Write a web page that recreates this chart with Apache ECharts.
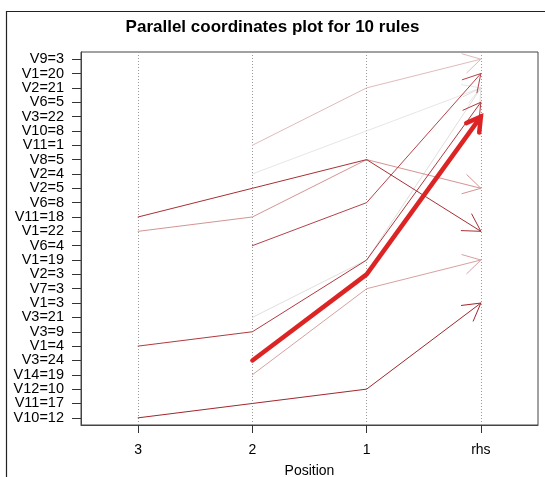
<!DOCTYPE html>
<html><head><meta charset="utf-8">
<script src="https://cdn.jsdelivr.net/npm/echarts@6/dist/echarts.min.js"></script>
<style>html,body{margin:0;padding:0;background:#fff}#c{width:545px;height:477px}</style>
</head><body><div id="c"></div>
<script>
// Axis categories
const positions = ['3', '2', '1', 'rhs'];
const items = ['V10=12','V11=17','V12=10','V14=19','V3=24','V1=4','V3=9','V3=21','V1=3','V7=3',
  'V2=3','V1=19','V6=4','V1=22','V11=18','V6=8','V2=5','V2=4','V8=5','V11=1',
  'V10=8','V3=22','V6=5','V2=21','V1=20','V9=3'];

// Rules (one entry per rule, in drawing order): item at each position
const lhs3 = [null,     null,     null,    'V1=22',  null,     null,    'V11=18', 'V1=4',  'V10=12', null];
const lhs2 = ['V2=4',   'V3=21',  'V11=1', 'V11=18', 'V14=19', 'V6=4',  'V2=5',   'V3=9',  'V11=17', 'V3=24'];
const lhs1 = ['V10=8',  'V1=19',  'V2=21', 'V8=5',   'V7=3',   'V6=8',  'V8=5',   'V1=19', 'V12=10', 'V2=3'];
const rhs  = ['V2=21',  'V2=21',  'V9=3',  'V2=5',   'V1=19',  'V1=20', 'V1=22',  'V6=5',  'V1=3',   'V3=22'];

// Styles (kept apart from data)
const ruleColors = ['#e8e6e6','#e2dede','#dfbcbc','#d49494','#d9a0a0','#b3424a','#a83036','#b03a40','#a2262c','#dd2424'];
const ruleWidths = [1, 1, 1, 1, 1, 1, 1, 1, 1, 4.5];

const columns = [lhs3, lhs2, lhs1, rhs];

function renderRule(params, api) {
  const r = params.dataIndex;
  const pts = [];
  columns.forEach((col, p) => {
    const it = col[r];
    if (it) pts.push(api.coord([p, items.indexOf(it)]));
  });
  const color = ruleColors[r];
  const w = ruleWidths[r];
  const tip = pts[pts.length - 1];
  const prev = pts[pts.length - 2];
  let dx = tip[0] - prev[0], dy = tip[1] - prev[1];
  const len = Math.sqrt(dx * dx + dy * dy);
  dx /= len; dy /= len;
  const L = w > 2 ? 16 : 20;
  const a = Math.PI / 6;
  const rot = (ang) => [dx * Math.cos(ang) - dy * Math.sin(ang), dx * Math.sin(ang) + dy * Math.cos(ang)];
  const r1 = rot(a), r2 = rot(-a);
  const b1 = [tip[0] - L * r1[0], tip[1] - L * r1[1]];
  const b2 = [tip[0] - L * r2[0], tip[1] - L * r2[1]];
  return {
    type: 'group',
    children: [
      { type: 'polyline', shape: { points: pts }, style: { stroke: color, lineWidth: w, fill: null, lineJoin: 'round', lineCap: 'round' } },
      { type: 'polyline', shape: { points: [b1, tip, b2] }, style: { stroke: color, lineWidth: w, fill: null, lineJoin: 'miter', lineCap: w > 2 ? 'round' : 'butt' } }
    ]
  };
}

const font = 'Liberation Sans, Arial, sans-serif';
const chart = echarts.init(document.getElementById('c'), null, { renderer: 'canvas' });
chart.setOption({
  animation: false,
  backgroundColor: '#fff',
  title: {
    text: 'Parallel coordinates plot for 10 rules',
    left: 'center', top: 14,
    textStyle: { fontSize: 17, fontWeight: 'bold', color: '#000', fontFamily: font }
  },
  graphic: [{
    type: 'rect', silent: true,
    shape: { x: 6.5, y: 11.5, width: 700, height: 700 },
    style: { fill: null, stroke: '#222', lineWidth: 1.2 }
  }],
  grid: { left: 81, right: 7, top: 52, bottom: 52, outerBoundsMode: 'none', containLabel: false,
    show: true, borderColor: '#444', borderWidth: 1, backgroundColor: 'transparent' },
  xAxis: {
    type: 'category', data: positions, boundaryGap: true,
    name: 'Position', nameLocation: 'middle', nameGap: 39,
    nameTextStyle: { fontSize: 14, color: '#000', fontFamily: font },
    axisLine: { show: true, lineStyle: { color: '#444' } },
    axisTick: { show: true, alignWithLabel: true, length: 8, lineStyle: { color: '#333' } },
    axisLabel: { fontSize: 14, color: '#000', margin: 18, fontFamily: font },
    splitLine: { show: false }
  },
  yAxis: {
    type: 'category', data: items, boundaryGap: true,
    axisLine: { show: true, lineStyle: { color: '#444' } },
    axisTick: { show: true, alignWithLabel: true, length: 9, lineStyle: { color: '#333' } },
    axisLabel: { fontSize: 14.5, color: '#000', margin: 17, fontFamily: font, interval: 0 },
    splitLine: { show: false }
  },
  series: [{
    type: 'custom',
    renderItem: renderRule,
    data: rhs.map(() => [0, 0]),
    silent: true,
    z: 3,
    markLine: {
      silent: true, symbol: 'none', label: { show: false },
      lineStyle: { type: [1, 2], color: '#999', width: 1 },
      data: positions.map((_, i) => ({ xAxis: i })),
      z: 1
    }
  }]
});
</script>
</body></html>
